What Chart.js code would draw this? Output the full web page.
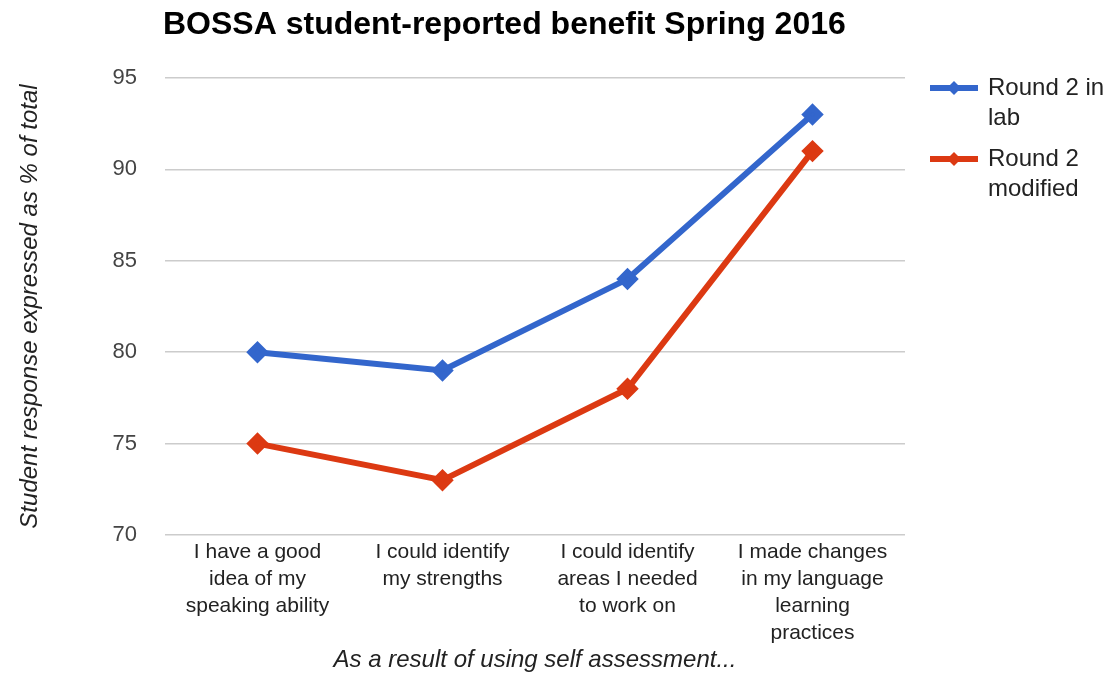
<!DOCTYPE html>
<html>
<head>
<meta charset="utf-8">
<script src="https://cdn.jsdelivr.net/npm/chart.js@4.4.1/dist/chart.umd.min.js"></script>
<style>
  html, body { margin: 0; padding: 0; background: #fff; }
  #wrap { width: 1110px; height: 675px; position: relative; }
</style>
</head>
<body>
<div id="wrap"><canvas id="chart"></canvas></div>
<script>
const chartTitle = "BOSSA student-reported benefit Spring 2016";
const categories = [
  ["I have a good", "idea of my", "speaking ability"],
  ["I could identify", "my strengths"],
  ["I could identify", "areas I needed", "to work on"],
  ["I made changes", "in my language", "learning", "practices"]
];
const seriesNames = ["Round 2 in lab", "Round 2 modified"];
const legendLines = [["Round 2 in", "lab"], ["Round 2", "modified"]];
const roundLab = [80, 79, 84, 93];
const roundModified = [75, 73, 78, 91];
const colors = ["#3366cc", "#dc3912"];
const yTicks = [70, 75, 80, 85, 90, 95];

const FONT = "Arial, 'Liberation Sans', sans-serif";

// title + wrapped legend drawn on the canvas
const extras = {
  id: "extras",
  afterDraw(chart) {
    const ctx = chart.ctx;
    const area = chart.chartArea;
    ctx.save();
    ctx.fillStyle = "#000";
    ctx.font = "bold 32px " + FONT;
    ctx.textBaseline = "middle";
    ctx.textAlign = "left";
    ctx.fillText(chartTitle, area.left - 2, 25);

    let y = 88;
    chart.data.datasets.forEach((ds, i) => {
      ctx.strokeStyle = ds.borderColor;
      ctx.lineWidth = 6;
      ctx.beginPath();
      ctx.moveTo(930, y);
      ctx.lineTo(978, y);
      ctx.stroke();
      ctx.fillStyle = ds.borderColor;
      ctx.beginPath();
      ctx.moveTo(954, y - 7);
      ctx.lineTo(961, y);
      ctx.lineTo(954, y + 7);
      ctx.lineTo(947, y);
      ctx.closePath();
      ctx.fill();
      ctx.fillStyle = "#222";
      ctx.font = "24px " + FONT;
      legendLines[i].forEach((t, j) => {
        ctx.fillText(t, 988, y + j * 30);
      });
      y += 71;
    });
    ctx.restore();
  }
};

new Chart(document.getElementById("chart"), {
  type: "line",
  data: {
    labels: categories,
    datasets: [
      {
        label: seriesNames[0],
        data: roundLab,
        borderColor: colors[0],
        backgroundColor: colors[0],
        borderWidth: 6,
        pointStyle: "rectRot",
        pointRadius: 7,
        tension: 0
      },
      {
        label: seriesNames[1],
        data: roundModified,
        borderColor: colors[1],
        backgroundColor: colors[1],
        borderWidth: 6,
        pointStyle: "rectRot",
        pointRadius: 7,
        tension: 0
      }
    ]
  },
  options: {
    responsive: true,
    maintainAspectRatio: false,
    animation: false,
    layout: { padding: { left: 10, right: 205, top: 78, bottom: 0 } },
    plugins: {
      legend: { display: false },
      tooltip: { enabled: false }
    },
    scales: {
      x: {
        offset: true,
        grid: { display: false, drawTicks: false },
        border: { display: false },
        ticks: {
          color: "#222",
          padding: 4,
          maxRotation: 0,
          autoSkip: false,
          font: { family: FONT, size: 21, lineHeight: 27 / 21 }
        },
        title: {
          display: true,
          text: "As a result of using self assessment...",
          color: "#222",
          padding: { top: 0, bottom: 0 },
          font: { family: FONT, size: 24, style: "italic" }
        },
        afterFit(scale) { scale.height = 140; }
      },
      y: {
        min: 70,
        max: 95,
        afterBuildTicks(scale) { scale.ticks = yTicks.map(v => ({ value: v })); },
        grid: { color: "#cccccc", lineWidth: 1.5, drawTicks: false },
        border: { display: false },
        ticks: {
          color: "#444",
          padding: 28,
          font: { family: FONT, size: 22 }
        },
        title: {
          display: true,
          text: "Student response expressed as % of total",
          color: "#222",
          padding: { top: 6, bottom: 0 },
          font: { family: FONT, size: 24, style: "italic" }
        },
        afterFit(scale) { scale.width = 155; }
      }
    }
  },
  plugins: [extras]
});
</script>
</body>
</html>
